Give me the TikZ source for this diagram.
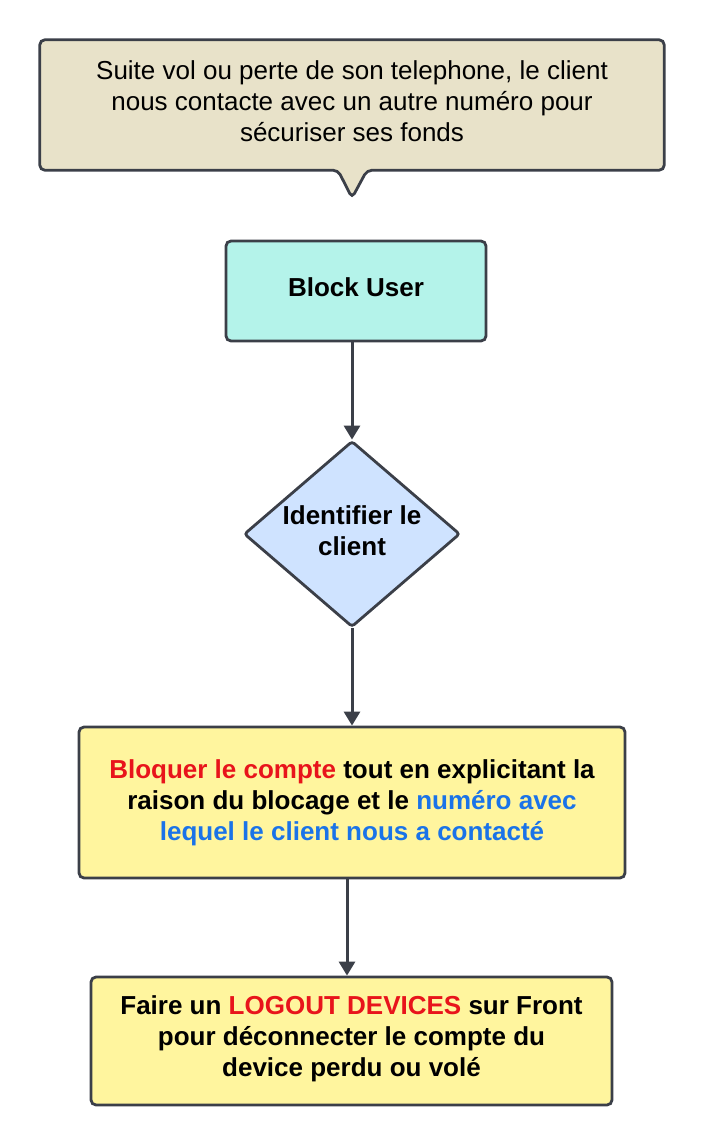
\documentclass[tikz,border=0pt]{standalone}
\usepackage{fontspec}
\setmainfont{Liberation Sans}
\usetikzlibrary{shapes.geometric,arrows.meta}
\definecolor{edge}{HTML}{3B3F48}
\definecolor{beige}{HTML}{E8E2C9}
\definecolor{teal}{HTML}{B4F3EA}
\definecolor{lblue}{HTML}{CFE3FF}
\definecolor{lyellow}{HTML}{FFF59E}
\definecolor{tred}{HTML}{E8141B}
\definecolor{tblue}{HTML}{1A73E8}
\tikzset{
  box/.style={draw=edge, line width=2.8pt, rounded corners=5pt, inner sep=0pt},
  txt/.style={align=center, inner sep=0pt, font=\fontsize{26}{31}\selectfont\bfseries},
  dec/.style={draw=edge, line width=2.8pt, rounded corners=3pt, shape=diamond,
    fill=lblue, inner sep=0pt},
  conn/.style={draw=edge, line width=3pt, -{Triangle[width=16pt,length=14pt]}}
}
\begin{document}
\begin{tikzpicture}[x=1pt,y=-1pt]
\useasboundingbox (0,0) rectangle (705,1146);
% callout
\node[minimum width=624pt, minimum height=130pt, inner sep=0pt] (c) at (352,105) {};
\coordinate (tip) at (352,198);
\draw[draw=edge, line width=2.8pt, fill=beige, rounded corners=5pt]
  (c.north west) -- (c.north east) -- (c.south east)
  -- ([xshift=15pt]c.south) -- (tip) -- ([xshift=-14pt]c.south)
  -- (c.south west) -- cycle;
\node[align=center, inner sep=0pt, font=\fontsize{26}{31}\selectfont] (ct) at ([yshift=4pt]c)
  {Suite vol ou perte de son telephone, le client\\nous contacte avec un autre numéro pour\\sécuriser ses fonds};

% Block User
\node[box, fill=teal, minimum width=260pt, minimum height=100pt] (b1) at (356,291) {};
\node[txt] (b1t) at ([yshift=4pt]b1) {Block User};

% decision
\node[dec, minimum width=216pt, minimum height=186pt] (d) at (352,534) {};
\node[txt] (dt) at ([yshift=3pt]d) {Identifier le\\client};

% block 3
\node[box, fill=lyellow, minimum width=546pt, minimum height=151pt] (b3) at (352,802.5) {};
\node[txt] (b3t) at (b3)
  {\textcolor{tred}{Bloquer le compte} tout en explicitant la\\
   raison du blocage et le \textcolor{tblue}{numéro avec}\\
   \textcolor{tblue}{lequel le client nous a contacté}};

% block 4
\node[box, fill=lyellow, minimum width=521pt, minimum height=128pt] (b4) at (351.5,1041) {};
\node[txt] (b4t) at ([yshift=2pt]b4)
  {Faire un \textcolor{tred}{LOGOUT DEVICES} sur Front\\
   pour déconnecter le compte du\\
   device perdu ou volé};

\draw[conn] ([xshift=-4pt]b1.south) -- (d.north);
\draw[conn] (d.south) -- (b3.north);
\draw[conn] ([xshift=-5pt]b3.south) -- ([xshift=-4.5pt]b4.north);
\end{tikzpicture}
\end{document}
